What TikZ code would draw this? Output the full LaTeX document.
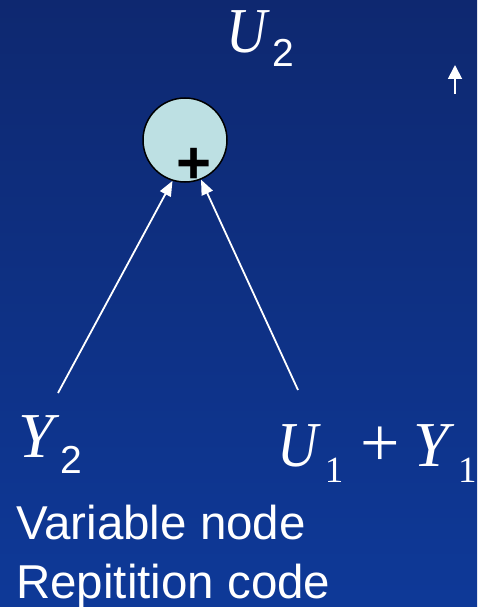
\documentclass[tikz,border=0pt]{standalone}
\usepackage{fontspec}
\setmainfont{Liberation Serif}
\setsansfont{Liberation Sans}
\usetikzlibrary{arrows.meta}
\definecolor{bgtop}{RGB}{14,40,112}
\definecolor{bgbot}{RGB}{14,57,152}
\definecolor{nodefill}{RGB}{189,224,227}
\newcommand\mybig{\fontsize{64}{64}\selectfont}
\newcommand\myU{\scalebox{0.88}[1]{\textit{U}}}
\newcommand\subsans[2]{\raisebox{-#1pt}{\fontsize{39}{39}\selectfont\sffamily #2}}
\newcommand\subser[2]{\raisebox{-#1pt}{\fontsize{37}{37}\selectfont\rmfamily #2}}
\tikzset{
  lab/.style={text=white, inner sep=0pt, anchor=base west, font=\mybig},
  edge/.style={white, line width=1.8pt, -{Triangle[length=15pt,width=12pt]}},
  plain/.style={text=white, inner sep=0pt, anchor=base west, font=\fontsize{47.5}{59}\selectfont\sffamily, align=left}
}
\begin{document}
\begin{tikzpicture}[x=1pt,y=-1pt]
\useasboundingbox (0,0) rectangle (477,607);
\shade[top color=bgtop, bottom color=bgbot] (0,0) rectangle (477,607);
\node[circle, draw=black, line width=1.5pt, fill=nodefill, minimum size=84pt, inner sep=0pt] (c) at (185,140) {};
\node[inner sep=0pt, font=\fontsize{60}{60}\selectfont\sffamily\bfseries] (plus) at (194,166) {+};
\node[lab] (u2) at (226,53) {\myU\hspace{2.5pt}\subsans{14}{2}};
\node[lab] (y2) at (18,457) {\textit{Y}\hspace{1pt}\subsans{16}{2}};
\node[lab] (u1y1) at (277,466) {\myU\hspace{4pt}\subser{16}{1}\hspace{17pt}{\fontsize{70}{70}\selectfont +}\hspace{14pt}\textit{Y}\hspace{3pt}\subser{16}{1}};
\node[plain] (txt) at (16,598) {Variable node\\Repitition code};
\coordinate (la) at (58,393);
\coordinate (ra) at (298,390);
\draw[edge] (la) -- (c.253);
\draw[edge] (ra) -- (c.292);
\coordinate (sa) at (455,94);
\coordinate (sb) at (455,65);
\draw[white, line width=1.8pt, -{Triangle[length=14pt,width=14pt]}] (sa) -- (sb);
\end{tikzpicture}
\end{document}
